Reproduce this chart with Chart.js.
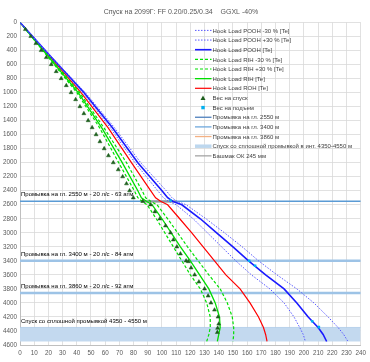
<!DOCTYPE html>
<html>
<head>
<meta charset="utf-8">
<script src="https://cdn.jsdelivr.net/npm/chart.js@4.4.1/dist/chart.umd.min.js"></script>
<style>
html, body { margin: 0; padding: 0; background: #fff; }
#wrap { width: 370px; height: 362px; }
</style>
</head>
<body>
<div id="wrap"><canvas id="myChart"></canvas></div>
<script>
// depth grid shared by the model curves (m)
const depths = [0, 500, 1000, 1500, 2000, 2400, 2500, 2550, 2600, 2800, 3000, 3200, 3400, 3600, 3800, 4000, 4200, 4350, 4450, 4550];
const poohMinus30 = [0, 22, 44, 63.5, 81, 97, 101, 104.5, 110, 122, 132, 142, 152, 163, 176, 186, 193, 197, 199.5, 201];
const poohPlus30 = [0, 22.6, 46, 66.5, 85, 103, 107, 110.5, 117, 131, 144, 156.5, 168, 181, 195, 207, 217, 224, 228, 231];
const pooh = [0, 22.3, 45, 65, 83, 100, 104, 107.5, 114, 127, 138.5, 150, 161, 173, 186, 195, 203, 210, 213.5, 216];
const rihMinus30 = [0, 21, 42, 59, 75, 86, 88.5, 92, 96.5, 104, 111, 118, 125.5, 133, 141, 146, 149.5, 150.5, 150.5, 150];
const rihPlus30 = [0, 20, 40, 56, 69.5, 80.5, 83, 86, 89.5, 96, 102, 108, 114, 120, 127, 131.5, 134, 134, 133, 131.5];
const rih = [0, 20.5, 41, 57.5, 72, 83, 85.5, 89, 93, 100, 106.5, 113, 120, 126.5, 133, 137.5, 140.5, 141, 140, 139];
const roh = [0, 21.5, 43, 62, 78.5, 92, 95.5, 99, 104, 112.5, 121, 129, 137, 145, 155, 162, 168, 171.5, 173, 174];

// measured weights
const tripInDepth = [100, 200, 300, 400, 500, 600, 700, 800, 900, 1000, 1100, 1200, 1300, 1400, 1500, 1600, 1700, 1800, 1900, 2000,
  2100, 2200, 2300, 2400, 2500, 2550, 2600, 2700, 2800, 2900, 3000, 3100, 3200, 3300, 3400, 3410, 3500, 3600, 3700, 3800,
  3900, 4000, 4100, 4200, 4300, 4360, 4420];
const tripInLoad = [3.8, 7.6, 11.2, 14.9, 18.5, 22, 25.5, 29, 32.6, 36, 39.2, 42.2, 45, 48, 50.8, 53.6, 56.3, 59.3, 62.3, 65.7,
  69.2, 72.3, 75, 77.2, 79.8, 86.5, 92, 95, 98.5, 102.5, 106, 108, 110.5, 113, 117, 118.6, 120.5, 123, 126, 130,
  132.5, 134.5, 137, 139.5, 140, 139.2, 139];
const tripOutDepth = [2540, 3400, 3470, 4260, 4345];
const tripOutLoad = [106, 161.4, 165.6, 205.8, 210.5];

// flushing depths, wash interval, casing shoe
const loadRange = [0, 240];
const flushDepths = [2550, 3400, 3860];
const washInterval = [4350, 4550];
const shoeDepth = 2555;
const shoeLoads = [85, 110];

const notes = ['Промывка на гл. 2550 м - 20 л/с - 63 атм', 'Промывка на гл. 3400 м - 20 л/с - 84 атм',
  'Промывка на гл. 3860 м - 20 л/с - 92 атм', 'Спуск со сплошной промывкой 4350 - 4550 м'];
const noteDepths = [2550, 3400, 3860, 4350];

const pts = (xs, ys) => xs.map((x, i) => ({x: x, y: ys[i]}));
const hline = (d, xs) => xs.map(x => ({x: x, y: d}));

const FONT = '"Liberation Sans", Arial, sans-serif';

function curve(label, vals, color, width, dash, order) {
  return {
    label: label, data: pts(vals, depths), showLine: true, borderColor: color, borderWidth: width,
    borderDash: dash, pointRadius: 0, order: order, fill: false,
    legend: {color: color, width: width, dash: dash}
  };
}

const datasets = [
  curve('Hook Load POOH -30 % [Te]', poohMinus30, '#5a5aff', 1, [1.5, 1.5], 2),
  curve('Hook Load POOH +30 % [Te]', poohPlus30, '#5a5aff', 1, [1.5, 1.5], 2),
  curve('Hook Load POOH [Te]', pooh, '#1a1aff', 1.6, [], 2),
  curve('Hook Load RIH -30 % [Te]', rihMinus30, '#00e000', 1.2, [3, 2], 2),
  curve('Hook Load RIH +30 % [Te]', rihPlus30, '#00e000', 1.2, [3, 2], 2),
  curve('Hook Load RIH [Te]', rih, '#00dd00', 1.3, [], 2),
  curve('Hook Load ROH [Te]', roh, '#ff0000', 1.2, [], 2),
  {
    label: 'Вес на спуск', data: pts(tripInLoad, tripInDepth), showLine: false,
    pointStyle: 'triangle', pointRadius: 2.3, backgroundColor: '#1d5e1d', borderColor: '#1d5e1d', borderWidth: 0.5, order: 0,
    legend: {marker: 'triangle', color: '#1d5e1d'}
  },
  {
    label: 'Вес на подъем', data: pts(tripOutLoad, tripOutDepth), showLine: false,
    pointStyle: 'rect', pointRadius: 1.8, backgroundColor: '#00b0f0', borderColor: '#00b0f0', borderWidth: 0, order: 0,
    legend: {marker: 'rect', color: '#00b0f0'}
  },
  {
    label: 'Промывка на гл. 2550 м', data: hline(flushDepths[0], loadRange), showLine: true,
    borderColor: '#5b9bd5', borderWidth: 1.5, pointRadius: 0, order: 5,
    legend: {color: '#4f81bd', width: 1.3, dash: []}
  },
  {
    label: 'Промывка на гл. 3400 м', data: hline(flushDepths[1], loadRange), showLine: true,
    borderColor: '#9dc3e6', borderWidth: 2.5, pointRadius: 0, order: 5,
    legend: {color: '#6fa8dc', width: 1.3, dash: []}
  },
  {
    label: 'Промывка на гл. 3860 м', data: hline(flushDepths[2], loadRange), showLine: true,
    borderColor: '#9dc3e6', borderWidth: 2.5, pointRadius: 0, order: 5,
    legend: {color: '#f4b183', width: 1.3, dash: []}
  },
  {
    label: 'Спуск со сплошной промывкой в инт. 4350-4550 м', data: hline(washInterval[0], loadRange), showLine: true,
    borderColor: '#aecbe9', borderWidth: 0.8, pointRadius: 0, order: 6,
    fill: {value: washInterval[1]}, backgroundColor: '#c3d9ef',
    legend: {color: '#bdd7ee', width: 3.5, dash: []}
  },
  {
    label: 'Башмак ОК 245 мм', data: hline(shoeDepth, shoeLoads), showLine: true,
    borderColor: 'rgba(150,150,150,0.8)', borderWidth: 2.5, pointRadius: 0, order: 4,
    legend: {color: '#a5a5a5', width: 1.3, dash: []}
  }
];

const insideLegend = {
  id: 'insideLegend',
  afterDatasetsDraw(chart) {
    const ctx = chart.ctx, area = chart.chartArea;
    const x0 = area.left + 175, y0 = area.top + 8;
    ctx.save();
    ctx.font = '6px ' + FONT;
    ctx.textBaseline = 'middle';
    let row = 0;
    chart.data.datasets.forEach(ds => {
      if (!ds.legend) return;
      const s = ds.legend;
      const y = y0 + row * 9.65;
      if (s.marker === 'triangle') {
        ctx.fillStyle = s.color;
        ctx.beginPath();
        ctx.moveTo(x0 + 8, y - 2.5);
        ctx.lineTo(x0 + 10.5, y + 2);
        ctx.lineTo(x0 + 5.5, y + 2);
        ctx.closePath();
        ctx.fill();
      } else if (s.marker === 'rect') {
        ctx.fillStyle = s.color;
        ctx.fillRect(x0 + 6.3, y - 1.7, 3.4, 3.4);
      } else {
        ctx.strokeStyle = s.color;
        ctx.lineWidth = s.width;
        ctx.setLineDash(s.dash);
        ctx.beginPath();
        ctx.moveTo(x0, y);
        ctx.lineTo(x0 + 16.5, y);
        ctx.stroke();
        ctx.setLineDash([]);
      }
      ctx.fillStyle = '#404040';
      ctx.fillText(ds.label, x0 + 17.5, y + 0.5);
      row++;
    });
    ctx.restore();
  }
};

const depthNotes = {
  id: 'depthNotes',
  afterDatasetsDraw(chart) {
    const ctx = chart.ctx, xs = chart.scales.x, ys = chart.scales.y;
    ctx.save();
    ctx.font = '6px ' + FONT;
    ctx.fillStyle = '#000';
    ctx.textBaseline = 'middle';
    notes.forEach((t, i) => {
      ctx.fillText(t, xs.getPixelForValue(0) + 1, ys.getPixelForValue(noteDepths[i]) - 6.5);
    });
    ctx.restore();
  }
};

new Chart(document.getElementById('myChart'), {
  type: 'scatter',
  data: { datasets: datasets },
  plugins: [insideLegend, depthNotes],
  options: {
    responsive: true,
    maintainAspectRatio: false,
    animation: false,
    layout: { padding: { left: 0, right: 8, top: 0, bottom: 0 } },
    scales: {
      x: {
        type: 'linear', min: 0, max: 240,
        ticks: { stepSize: 10, autoSkip: false, maxRotation: 0, padding: 4, color: '#595959', font: { size: 6.3, family: FONT },
          callback: v => String(v) },
        grid: { color: '#d9d9d9', lineWidth: 0.8, drawTicks: false },
        border: { color: '#bfbfbf' },
        afterFit: s => { s.height = 17; }
      },
      y: {
        type: 'linear', reverse: true, min: 0, max: 4600,
        ticks: { stepSize: 200, autoSkip: false, padding: 3, color: '#595959', font: { size: 6.3, family: FONT },
          callback: v => String(v) },
        grid: { color: '#d9d9d9', lineWidth: 0.8, drawTicks: false },
        border: { color: '#bfbfbf' },
        afterFit: s => { s.width = 20; }
      }
    },
    plugins: {
      legend: { display: false },
      tooltip: { enabled: false },
      title: {
        display: true,
        text: 'Спуск на 2099Г: FF 0.20/0.25/0.34    GGXL -40%',
        color: '#595959',
        font: { size: 7, weight: 'normal', family: FONT },
        padding: { top: 8, bottom: 6 }
      }
    }
  }
});
</script>
</body>
</html>
